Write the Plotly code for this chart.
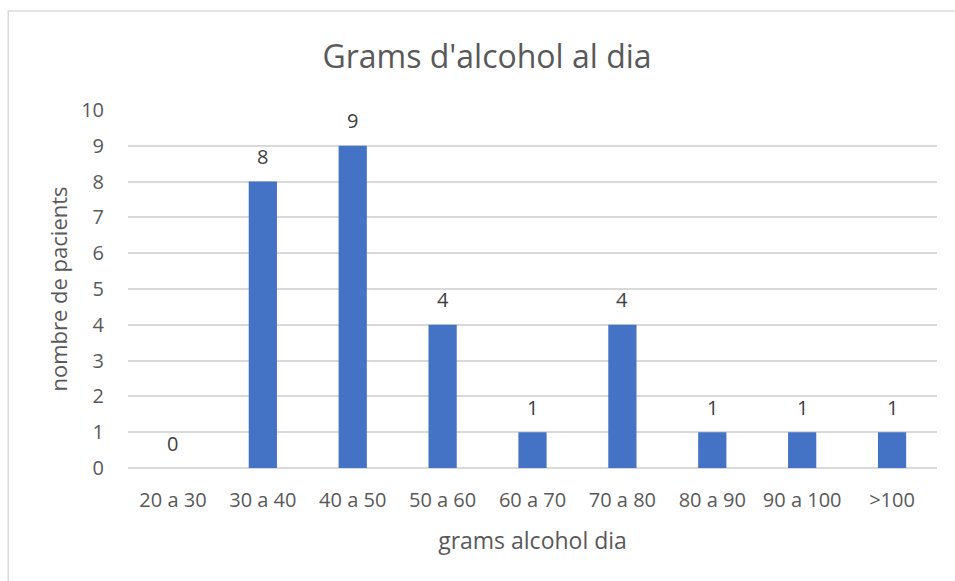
import plotly.graph_objects as go

categories = ["20 a 30", "30 a 40", "40 a 50", "50 a 60", "60 a 70",
              "70 a 80", "80 a 90", "90 a 100", ">100"]
patients = [0, 8, 9, 4, 1, 4, 1, 1, 1]
y_ticks = list(range(0, 11))

FONT = "Open Sans, Liberation Sans, sans-serif"
TEXT = "#595959"
GRID = "#D9D9D9"

fig = go.Figure(
    go.Bar(
        x=categories,
        y=patients,
        marker=dict(color="#4472C4", line=dict(width=0)),
    )
)

# value labels above each bar
for cat, val in zip(categories, patients):
    fig.add_annotation(
        x=cat, y=val, xref="x", yref="y",
        text=str(val), showarrow=False,
        yanchor="middle", yshift=25,
        font=dict(family=FONT, size=20, color="#404040"),
    )

fig.update_layout(
    width=955,
    height=581,
    margin=dict(l=128, r=18, t=110, b=113),
    paper_bgcolor="white",
    plot_bgcolor="white",
    bargap=0.686,
    showlegend=False,
    title=dict(
        text="Grams d'alcohol al dia",
        font=dict(family=FONT, size=32, color=TEXT),
        x=487 / 955, xref="container", xanchor="center",
        y=1 - 57 / 581, yref="container", yanchor="middle",
    ),
    xaxis=dict(
        title=dict(text="grams alcohol dia", font=dict(family=FONT, size=23, color=TEXT), standoff=20),
        tickfont=dict(family=FONT, size=20, color=TEXT),
        showgrid=False,
        showline=False,
        ticks="",
        ticklabelstandoff=18,
    ),
    yaxis=dict(
        title=dict(text="nombre de pacients", font=dict(family=FONT, size=22, color=TEXT), standoff=7),
        tickfont=dict(family=FONT, size=20, color=TEXT),
        range=[0, 10],
        tickvals=y_ticks,
        showgrid=True,
        gridcolor=GRID,
        gridwidth=1.5,
        zeroline=True,
        zerolinecolor=GRID,
        zerolinewidth=1.5,
        showline=False,
        ticks="",
        ticklabelstandoff=23,
    ),
    shapes=[
        dict(
            type="rect", xref="paper", yref="paper",
            x0=-0.148, x1=1.05, y0=-0.36, y1=1.2765,
            line=dict(color="#D9D9D9", width=1.5),
            fillcolor="rgba(0,0,0,0)",
            layer="below",
        )
    ],
)

fig.write_html("out.html")
